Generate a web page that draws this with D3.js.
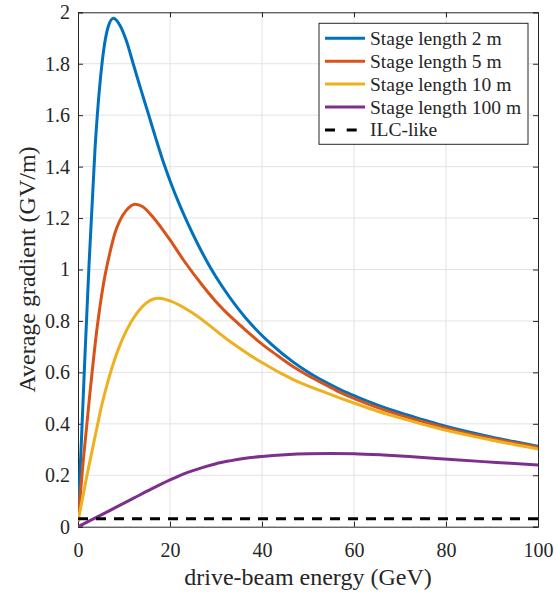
<!DOCTYPE html>
<html>
<head>
<meta charset="utf-8">
<script src="https://cdn.jsdelivr.net/npm/d3@7"></script>
<style>
  body { margin: 0; background: #fff; }
  svg { display: block; }
  text { font-family: "Liberation Serif", "Times New Roman", serif; fill: #262626; }
</style>
</head>
<body>
<svg width="556" height="594"></svg>
<script>
// values
const xBlue = [0, 0.8, 1.5, 2.4, 3.7, 5.15, 6.5, 7.7, 9.1, 10.5, 12, 13.5, 15.3, 17, 18.7, 20, 22, 23.6, 26, 28.7, 31.5, 34.8, 38, 42, 46.8, 50.4, 54, 57, 60.6, 65, 70, 75, 78.7, 85, 90, 95, 100];
const yBlue = [0.03, 0.36, 0.66, 1.02, 1.47, 1.79, 1.94, 1.977, 1.95, 1.89, 1.8, 1.71, 1.605, 1.505, 1.41, 1.345, 1.255, 1.19, 1.1, 1.01, 0.93, 0.848, 0.78, 0.71, 0.64, 0.597, 0.56, 0.533, 0.505, 0.474, 0.443, 0.416, 0.397, 0.368, 0.348, 0.33, 0.313];

const xRed = [0, 1.16, 2.6, 4.06, 5.5, 7, 8, 9.1, 10.5, 12.4, 14, 16, 18, 20, 23, 27.2, 30, 34.5, 36.7, 40, 43, 46.8, 50, 54, 57, 60.6, 65, 70, 75, 78.7, 85, 90, 95, 100];
const yRed = [0.02, 0.26, 0.52, 0.76, 0.94, 1.07, 1.14, 1.19, 1.23, 1.254, 1.245, 1.21, 1.165, 1.115, 1.035, 0.935, 0.875, 0.795, 0.76, 0.71, 0.67, 0.622, 0.588, 0.55, 0.522, 0.494, 0.464, 0.434, 0.408, 0.39, 0.362, 0.343, 0.326, 0.309];

const xYellow = [0, 0.43, 1.9, 4.06, 5, 6.2, 7.5, 9.1, 10.6, 12.8, 15, 17.5, 20, 25, 32.3, 39.6, 46.8, 54, 57, 60.6, 65, 70, 75, 78.7, 85, 90, 95, 100];
const yYellow = [0.02, 0.06, 0.195, 0.38, 0.46, 0.545, 0.625, 0.705, 0.765, 0.83, 0.872, 0.888, 0.878, 0.83, 0.73, 0.642, 0.572, 0.52, 0.5, 0.477, 0.45, 0.423, 0.398, 0.381, 0.355, 0.336, 0.319, 0.302];

const xPurple = [0, 4, 8, 12, 16, 20, 22, 24, 26, 28, 30, 33, 36, 40, 45, 50, 55, 60, 66.4, 72, 77.2, 82, 88.1, 94, 100];
const yPurple = [0, 0.036, 0.073, 0.11, 0.147, 0.182, 0.198, 0.212, 0.224, 0.235, 0.245, 0.256, 0.265, 0.273, 0.28, 0.284, 0.285, 0.284, 0.279, 0.273, 0.266, 0.26, 0.253, 0.247, 0.24];

const xIlc = [0, 100];
const yIlc = [0.031, 0.031];

const seriesNames = ["Stage length 2 m", "Stage length 5 m", "Stage length 10 m", "Stage length 100 m", "ILC-like"];
const seriesColors = ["#0072BD", "#D95319", "#EDB120", "#7E2F8E", "#000000"];

const xTicks = [0, 20, 40, 60, 80, 100];
const yTicks = [0, 0.2, 0.4, 0.6, 0.8, 1, 1.2, 1.4, 1.6, 1.8, 2];

const svg = d3.select("svg");
const pL = 78, pR = 538, pT = 12.3, pB = 526.7;

const x = d3.scaleLinear().domain([0, 100]).range([pL, pR]);
const y = d3.scaleLinear().domain([0, 2]).range([pB, pT]);

// grid
svg.append("g").selectAll("line").data(xTicks.slice(1, -1)).enter().append("line")
  .attr("x1", d => x(d)).attr("x2", d => x(d)).attr("y1", pT).attr("y2", pB)
  .attr("stroke", "#e3e3e3").attr("stroke-width", 1);
svg.append("g").selectAll("line").data(yTicks.slice(1, -1)).enter().append("line")
  .attr("x1", pL).attr("x2", pR).attr("y1", d => y(d)).attr("y2", d => y(d))
  .attr("stroke", "#e3e3e3").attr("stroke-width", 1);

// axes with inward ticks (box style)
const fmt = d => String(+d.toFixed(1));
const axB = svg.append("g").attr("transform", `translate(0,${pB})`)
  .call(d3.axisBottom(x).tickValues(xTicks).tickSize(-5).tickPadding(16).tickFormat(fmt));
const axL = svg.append("g").attr("transform", `translate(${pL},0)`)
  .call(d3.axisLeft(y).tickValues(yTicks).tickSize(-5).tickPadding(8).tickFormat(fmt));
const axT = svg.append("g").attr("transform", `translate(0,${pT})`)
  .call(d3.axisTop(x).tickValues(xTicks).tickSize(-5).tickFormat(""));
const axR = svg.append("g").attr("transform", `translate(${pR},0)`)
  .call(d3.axisRight(y).tickValues(yTicks).tickSize(-5).tickFormat(""));
[axB, axL, axT, axR].forEach(a => {
  a.selectAll("path").attr("stroke", "#262626").attr("stroke-width", 1);
  a.selectAll("line").attr("stroke", "#262626");
  a.selectAll("text").style("font-size", "20px").attr("fill", "#262626")
    .style("font-family", '"Liberation Serif", "Times New Roman", serif');
});

// curves
svg.append("clipPath").attr("id", "clip").append("rect")
  .attr("x", pL).attr("y", pT).attr("width", pR - pL).attr("height", pB - pT);
const line = d3.line().x(d => x(d[0])).y(d => y(d[1])).curve(d3.curveMonotoneX);
const plot = svg.append("g").attr("clip-path", "url(#clip)");
const allSeries = [
  d3.zip(xBlue, yBlue), d3.zip(xRed, yRed), d3.zip(xYellow, yYellow),
  d3.zip(xPurple, yPurple), d3.zip(xIlc, yIlc)
];
allSeries.forEach((s, i) => {
  plot.append("path").datum(s).attr("d", line)
    .attr("fill", "none").attr("stroke", seriesColors[i])
    .attr("stroke-width", 3)
    .attr("stroke-dasharray", i === 4 ? "10,8" : null);
});

// axis labels
svg.append("text").attr("x", (pL + pR) / 2).attr("y", 585)
  .attr("text-anchor", "middle").style("font-size", "24px").text("drive-beam energy (GeV)");
svg.append("text").attr("transform", `translate(35,${(pT + pB) / 2}) rotate(-90)`)
  .attr("text-anchor", "middle").style("font-size", "24px").text("Average gradient (GV/m)");

// legend
const lg = svg.append("g");
lg.append("rect").attr("x", 319).attr("y", 23.3).attr("width", 209).attr("height", 121)
  .attr("fill", "#fff").attr("stroke", "#262626").attr("stroke-width", 1);
seriesNames.forEach((n, i) => {
  const cy = 38.3 + i * 22.9;
  lg.append("line").attr("x1", 325).attr("x2", 365).attr("y1", cy).attr("y2", cy)
    .attr("stroke", seriesColors[i]).attr("stroke-width", 3)
    .attr("stroke-dasharray", i === 4 ? "10,11.7" : null);
  lg.append("text").attr("x", 370).attr("y", cy + 6.5).style("font-size", "19.5px").text(n);
});
</script>
</body>
</html>
